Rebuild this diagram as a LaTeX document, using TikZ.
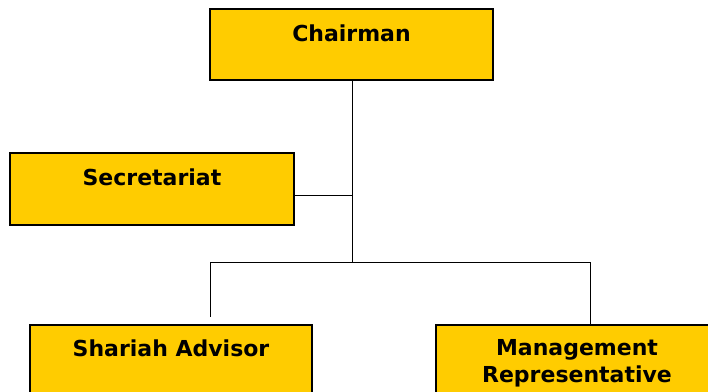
\documentclass[tikz,border=0pt]{standalone}
\usepackage{fontspec}
\setmainfont{DejaVu Sans}
\usetikzlibrary{positioning}
\definecolor{boxyellow}{RGB}{255,204,0}

\begin{document}
\begin{tikzpicture}[x=1pt,y=-1pt,
    unit/.style={rectangle,draw=black,fill=boxyellow,line width=1.4pt,
      minimum height=72pt,inner sep=0pt},
    caption/.style={font=\fontsize{22}{27}\selectfont\bfseries,anchor=base,
      inner sep=0pt,align=center},
    link/.style={draw=black,line width=0.9pt}]
    \useasboundingbox (0,0) rectangle (708,391);
    \clip (0,0) rectangle (708,391);
    \node[unit,minimum width=283pt,minimum height=71pt] (chair) at (351.5,44.5) {};
    \node[unit,minimum width=284pt] (sec) at (152,189) {};
    \node[unit,minimum width=282pt] (adv) at (171,361) {};
    \node[unit,minimum width=282pt] (mgmt) at (577,361) {};
    \node[caption] (t1) at ([yshift=-33pt]chair.north) {Chairman};
    \node[caption] (t2) at ([yshift=-33pt]sec.north) {Secretariat};
    \node[caption] (t3) at ([yshift=-32pt]adv.north) {Shariah Advisor};
    \node[caption] (t4) at ([yshift=-31pt]mgmt.north) {Management};
    \node[caption] (t5) at ([yshift=-58pt]mgmt.north) {Representative};
    \coordinate (tee) at (352,195);
    \coordinate (hub) at (352,262);
    \coordinate (left) at (210,262);
    \coordinate (right) at (590,262);
    \path[link]
    (chair.south -| hub) edge (hub)
    (sec.east |- tee) edge (tee)
    (left) edge (right)
    (left) edge ([yshift=7pt]left |- adv.north)
    (right) edge (right |- mgmt.north);
\end{tikzpicture}
\end{document}
